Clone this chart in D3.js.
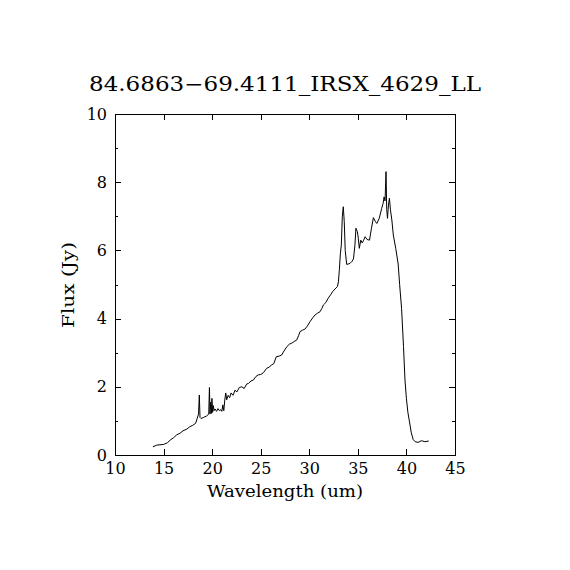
<!DOCTYPE html>
<html>
<head>
<meta charset="utf-8">
<script src="https://cdn.jsdelivr.net/npm/d3@7"></script>
<style>
  html, body { margin: 0; padding: 0; background: #fff; }
  text { font-family: "DejaVu Serif", "Liberation Serif", serif; fill: #000; }
</style>
</head>
<body>
<svg id="chart" width="570" height="570"></svg>
<script>
const title = "84.6863\u221269.4111_IRSX_4629_LL";
const xLabel = "Wavelength (um)";
const yLabel = "Flux (Jy)";
const xTicks = [10, 15, 20, 25, 30, 35, 40, 45];
const yTicks = [0, 2, 4, 6, 8, 10];
const yMinorTicks = [1, 3, 5, 7, 9];

const wavelength = [
  13.9, 14.3, 15.0, 15.4, 15.7, 16.0, 16.35, 16.7, 17.0, 17.4, 17.7, 18.0, 18.3, 18.47, 18.6, 18.68, 18.75, 18.85,
  19.1, 19.4, 19.65, 19.72, 19.78, 19.85, 19.92, 19.98, 20.05, 20.12, 20.2, 20.3, 20.45, 20.6, 20.75, 20.9,
  21.0, 21.1, 21.2, 21.3, 21.4, 21.5, 21.65, 21.8, 21.95, 22.15, 22.35, 22.55, 22.8, 23.05, 23.3, 23.55, 23.75,
  24.0, 24.25, 24.5, 24.75, 25.0, 25.3, 25.6, 25.9, 26.1, 26.35, 26.6, 26.9, 27.15, 27.4, 27.7, 27.95, 28.2,
  28.45, 28.7, 28.9, 29.05, 29.3, 29.55, 29.8, 30.1, 30.35, 30.6, 30.85, 31.1, 31.3, 31.45, 31.7, 31.95, 32.2,
  32.4, 32.65, 32.9, 33.0, 33.1, 33.2, 33.3, 33.4, 33.5, 33.6, 33.7, 33.85, 34.0, 34.2, 34.4, 34.55, 34.7, 34.8,
  34.95, 35.05, 35.15, 35.3, 35.45, 35.6, 35.75, 35.95, 36.2, 36.4, 36.6, 36.8, 36.95, 37.2, 37.45, 37.6, 37.7,
  37.8, 37.9, 37.97, 38.05, 38.15, 38.25, 38.35, 38.5, 38.65, 38.9, 39.15, 39.3, 39.5, 39.7, 39.85, 40.0, 40.15,
  40.3, 40.5, 40.7, 40.9, 41.2, 41.55, 41.9, 42.3
];
const flux = [
  0.24, 0.29, 0.31, 0.36, 0.44, 0.50, 0.59, 0.64, 0.71, 0.76, 0.83, 0.87, 0.93, 1.08, 1.20, 1.76, 1.10, 1.07,
  1.10, 1.14, 1.20, 1.98, 1.20, 1.55, 1.22, 1.66, 1.25, 1.45, 1.30, 1.35, 1.28, 1.36, 1.30, 1.33,
  1.28, 1.47, 1.30, 1.61, 1.82, 1.62, 1.75, 1.68, 1.82, 1.75, 1.90, 1.85, 1.98, 2.00, 1.95, 2.08, 2.10,
  2.17, 2.20, 2.30, 2.35, 2.36, 2.42, 2.54, 2.58, 2.64, 2.68, 2.88, 2.90, 2.93, 3.05, 3.18, 3.25, 3.28,
  3.33, 3.37, 3.50, 3.62, 3.66, 3.69, 3.78, 3.92, 4.02, 4.11, 4.16, 4.20, 4.30, 4.40, 4.47, 4.60, 4.70,
  4.79, 4.87, 4.94, 5.08, 5.45, 5.90, 6.16, 7.00, 7.28, 6.84, 6.00, 5.59, 5.60, 5.62, 5.68, 5.75, 6.16, 6.65,
  6.55, 6.35, 6.06, 6.30, 6.22, 6.30, 6.40, 6.32, 6.30, 6.65, 6.96, 6.85, 6.79, 6.94, 7.23, 7.38, 7.57,
  7.45, 8.31, 7.20, 6.94, 7.33, 7.53, 7.20, 6.89, 6.45, 6.06, 5.60, 5.00, 4.30, 3.18, 2.20, 1.65, 1.25,
  1.00, 0.65, 0.45, 0.39, 0.37, 0.42, 0.39, 0.41
];

const svg = d3.select("#chart");
const mLeft = 115, mRight = 455, mTop = 114, mBottom = 455;
const x = d3.scaleLinear().domain([10, 45]).range([mLeft, mRight]);
const y = d3.scaleLinear().domain([0, 10]).range([mBottom, mTop]);

// Frame
svg.append("rect").attr("x", mLeft).attr("y", mTop).attr("width", mRight - mLeft).attr("height", mBottom - mTop)
  .attr("fill", "none").attr("stroke", "#000").attr("stroke-width", 1).attr("shape-rendering", "crispEdges");

// Axes with inward ticks
const bottomAxis = d3.axisBottom(x).tickValues(xTicks).tickSize(-6).tickPadding(8).tickFormat(d3.format("d"));
const topAxis = d3.axisTop(x).tickValues(xTicks).tickSize(-6).tickFormat("");
const leftAxis = d3.axisLeft(y).tickValues(yTicks).tickSize(-6).tickPadding(8).tickFormat(d3.format("d"));
const rightAxis = d3.axisRight(y).tickValues(yTicks).tickSize(-6).tickFormat("");
const leftMinor = d3.axisLeft(y).tickValues(yMinorTicks).tickSize(-3).tickFormat("");
const rightMinor = d3.axisRight(y).tickValues(yMinorTicks).tickSize(-3).tickFormat("");

function styleAxis(g) {
  g.select(".domain").remove();
  g.selectAll("line").attr("stroke", "#000").attr("shape-rendering", "crispEdges");
  g.selectAll("text").style("font-family", "'DejaVu Serif', serif").style("font-size", "16px").attr("fill", "#000");
}
svg.append("g").attr("transform", `translate(0,${mBottom})`).call(bottomAxis).call(styleAxis);
svg.append("g").attr("transform", `translate(0,${mTop})`).call(topAxis).call(styleAxis);
svg.append("g").attr("transform", `translate(${mLeft},0)`).call(leftAxis).call(styleAxis);
svg.append("g").attr("transform", `translate(${mRight},0)`).call(rightAxis).call(styleAxis);
svg.append("g").attr("transform", `translate(${mLeft},0)`).call(leftMinor).call(styleAxis);
svg.append("g").attr("transform", `translate(${mRight},0)`).call(rightMinor).call(styleAxis);

// Spectrum line
const pts = wavelength.map((w, i) => [w, flux[i]]);
const line = d3.line().x(d => x(d[0])).y(d => y(d[1]));
svg.append("path").datum(pts).attr("d", line).attr("fill", "none").attr("stroke", "#000").attr("stroke-width", 1);

// Title and labels
svg.append("text").attr("x", 285).attr("y", 91).attr("text-anchor", "middle")
  .style("font-size", "20px").attr("textLength", 392).attr("lengthAdjust", "spacingAndGlyphs").text(title);
svg.append("text").attr("x", 285).attr("y", 497).attr("text-anchor", "middle")
  .style("font-size", "16px").attr("textLength", 156).attr("lengthAdjust", "spacingAndGlyphs").text(xLabel);
svg.append("text").attr("transform", "translate(74,285) rotate(-90)").attr("text-anchor", "middle")
  .style("font-size", "16px").attr("textLength", 86).attr("lengthAdjust", "spacingAndGlyphs").text(yLabel);
</script>
</body>
</html>
